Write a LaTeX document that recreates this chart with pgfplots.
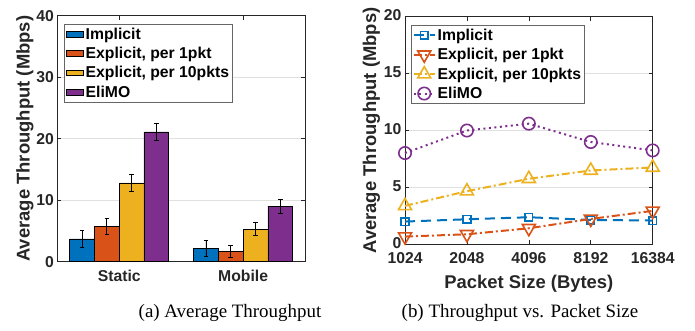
\documentclass[border=0pt]{standalone}
\usepackage{fontspec}
\setmainfont{Liberation Serif}
\newfontfamily\hel{Liberation Sans}
\usepackage{pgfplots}
\pgfplotsset{compat=1.18}
\definecolor{mblue}{RGB}{0,114,189}
\definecolor{mred}{RGB}{217,83,25}
\definecolor{myel}{RGB}{237,177,32}
\definecolor{mpur}{RGB}{126,47,142}
\definecolor{txt}{RGB}{38,38,38}
\pgfplotsset{mystyle/.style={
  scale only axis,
  axis line style={txt, line width=0.6bp},
  every tick/.style={txt, line width=0.6bp},
  tick align=inside,
  major tick length=4bp,
  ticklabel style={font=\hel\bfseries\fontsize{15.8}{16}\selectfont, text=txt},
  label style={font=\hel\bfseries\fontsize{18.5}{19}\selectfont, text=txt},
  /pgf/number format/assume math mode=true,
  ymajorgrids,
  grid style={black!12, line width=0.5bp},
  legend style={font=\hel\bfseries\fontsize{15.8}{16}\selectfont, text=black, draw=black!60, line width=0.6bp, fill=white, inner sep=1.5bp, row sep=2.5bp},
  legend cell align=left,
}}
\begin{document}
\begin{tikzpicture}[x=1bp,y=1bp]
\path[use as bounding box] (0,0) rectangle (695,-330);
% ---------------- left bar chart
\begin{axis}[mystyle,
  at={(57.3bp,-261.7bp)}, anchor=south west,
  width=247.7bp, height=246bp,
  xmin=0.5, xmax=2.5, ymin=0, ymax=40,
  xtick={1,2}, xticklabels={Static,Mobile},
  xticklabel style={yshift=-5bp},
  ytick={0,10,20,30,40},
  ylabel={Average Throughput (Mbps)},
  ylabel style={yshift=-4bp},
  legend style={at={(0.028,0.967)}, anchor=north west},
  legend image code/.code={\draw[#1] (0bp,-6.5bp) rectangle (21bp,7bp);},
]
\addplot[ybar, bar width=24.8bp, bar shift=0pt, fill=mblue, draw=black, line width=0.6bp, area legend,
  error bars/.cd, y dir=both, y explicit,
  error bar style={line width=0.8bp, black},
  error mark options={rotate=90, line width=0.8bp, mark size=2.3bp, black}]
  coordinates {(0.7,3.7) +- (0,1.35) (1.7,2.2) +- (0,1.3)};
\addplot[ybar, bar width=24.8bp, bar shift=0pt, fill=mred, draw=black, line width=0.6bp, area legend,
  error bars/.cd, y dir=both, y explicit,
  error bar style={line width=0.8bp, black},
  error mark options={rotate=90, line width=0.8bp, mark size=2.3bp, black}]
  coordinates {(0.9,5.8) +- (0,1.3) (1.9,1.7) +- (0,1.0)};
\addplot[ybar, bar width=24.8bp, bar shift=0pt, fill=myel, draw=black, line width=0.6bp, area legend,
  error bars/.cd, y dir=both, y explicit,
  error bar style={line width=0.8bp, black},
  error mark options={rotate=90, line width=0.8bp, mark size=2.3bp, black}]
  coordinates {(1.1,12.8) +- (0,1.4) (2.1,5.3) +- (0,1.1)};
\addplot[ybar, bar width=24.8bp, bar shift=0pt, fill=mpur, draw=black, line width=0.6bp, area legend,
  error bars/.cd, y dir=both, y explicit,
  error bar style={line width=0.8bp, black},
  error mark options={rotate=90, line width=0.8bp, mark size=2.3bp, black}]
  coordinates {(1.3,21.1) +- (0,1.45) (2.3,9.05) +- (0,1.15)};
\legend{Implicit, {Explicit, per 1pkt}, {Explicit, per 10pkts}, EliMO}
\end{axis}
% ---------------- right line chart
\begin{axis}[mystyle,
  at={(405bp,-244.3bp)}, anchor=south west,
  width=247.7bp, height=227.6bp,
  xmin=0, xmax=4, ymin=0, ymax=20,
  xtick={0,1,2,3,4}, xticklabels={1024,2048,4096,8192,16384},
  xticklabel style={yshift=-5bp},
  yticklabel style={yshift=1.5bp},
  ytick={0,5,10,15,20},
  clip=false,
  xlabel={Packet Size (Bytes)},
  xlabel style={yshift=-4bp},
  ylabel={Average Throughput (Mbps)},
  ylabel style={yshift=-3bp},
  legend style={at={(0.024,0.963)}, anchor=north west},
  legend image code/.code={\draw[#1] (0bp,0bp) -- (21bp,0bp); \draw[#1, solid] plot coordinates {(10.5bp,0bp)};},
]
\addplot[mblue, line width=2bp, dash pattern=on 10bp off 6bp, mark=square, mark options={solid, line width=1.6bp, mark size=3.8bp}]
  coordinates {(0,2.0) (1,2.2) (2,2.38) (3,2.14) (4,2.09)};
\addplot[mred, line width=2bp, dash pattern=on 8bp off 3bp on 2bp off 3bp, mark=triangle, mark options={solid, rotate=180, line width=1.6bp, mark size=7.5bp}]
  coordinates {(0,0.68) (1,0.88) (2,1.41) (3,2.23) (4,2.94)};
\addplot[myel, line width=2bp, dash pattern=on 8bp off 3bp on 2bp off 3bp, mark=triangle, mark options={solid, line width=1.6bp, mark size=7.5bp}]
  coordinates {(0,3.38) (1,4.67) (2,5.76) (3,6.49) (4,6.75)};
\addplot[mpur, line width=2bp, dash pattern=on 2bp off 3.5bp, mark=o, mark options={solid, line width=1.6bp, mark size=6.2bp}]
  coordinates {(0,8.02) (1,10.0) (2,10.6) (3,8.99) (4,8.25)};
\legend{Implicit, {Explicit, per 1pkt}, {Explicit, per 10pkts}, EliMO}
\end{axis}
\node[font=\fontsize{19}{20}\selectfont] at (230,-313) {(a) Average Throughput};
\node[font=\fontsize{19}{20}\selectfont] at (520,-313) {(b) Throughput vs. Packet Size};
\end{tikzpicture}
\end{document}
